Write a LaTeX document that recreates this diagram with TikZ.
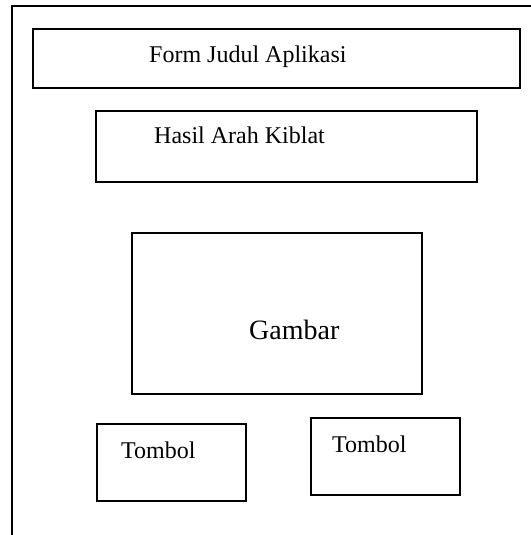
\documentclass[tikz,border=0pt]{standalone}
\usepackage{fontspec}
\setmainfont{Liberation Serif}
\begin{document}
\begin{tikzpicture}[x=1pt,y=-1pt,
  box/.style={draw=black,line width=1.6pt,anchor=north west,inner sep=0pt,outer sep=0pt},
  lbl/.style={anchor=base west,inner sep=0pt,font=\fontsize{24}{28}\selectfont},
  biglbl/.style={anchor=base west,inner sep=0pt,font=\fontsize{28}{32}\selectfont}]
\useasboundingbox (0,0) rectangle (530,535);
% outer frame
\coordinate (fbl) at (12,536);
\coordinate (ftl) at (12,6);
\coordinate (ftr) at (531,6);
\draw[line width=1.6pt] (fbl) -- (ftl) -- (ftr);
% boxes
\node[box,minimum width=487pt,minimum height=59pt] (form) at (33,29) {};
\node[lbl] (formtxt) at (149,63) {Form Judul Aplikasi};
\node[box,minimum width=381pt,minimum height=71pt] (hasil) at (96,111) {};
\node[lbl] (hasiltxt) at (154,143) {Hasil Arah Kiblat};
\node[box,minimum width=290pt,minimum height=161pt] (gambar) at (132,233) {};
\node[biglbl] (gambartxt) at (249,339) {Gambar};
\node[box,minimum width=149pt,minimum height=77pt] (tombolA) at (97,424) {};
\node[lbl] (tombolAtxt) at (121,458) {Tombol};
\node[box,minimum width=149pt,minimum height=77pt] (tombolB) at (311,418) {};
\node[lbl] (tombolBtxt) at (332,452) {Tombol};
\end{tikzpicture}
\end{document}
